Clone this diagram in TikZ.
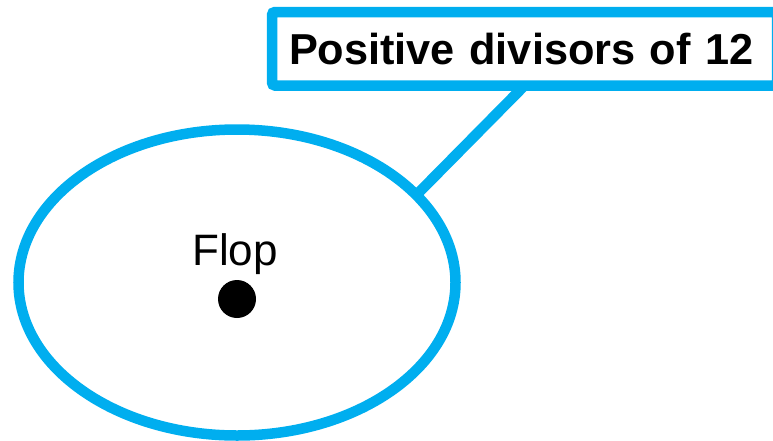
\documentclass[tikz,border=0pt]{standalone}
\usepackage{fontspec}
\setmainfont{Liberation Sans}
\usetikzlibrary{shapes.geometric,backgrounds}
\definecolor{setblue}{RGB}{0,174,239}
\begin{document}
\begin{tikzpicture}[x=1pt, y=-1pt,
    setline/.style={draw=setblue, line width=10.5pt},
    settitle/.style={setline, fill=white, rounded corners=3pt, outer sep=0pt,
      text width=471pt, align=left, inner xsep=17pt, inner ysep=0pt,
      minimum height=73.5pt, text height=31pt, text depth=0pt,
      font=\fontsize{43.3}{50}\selectfont\bfseries}]
    \useasboundingbox (0,0) rectangle (773,440);

    % The set
    \node[setline, ellipse, fill=white, inner sep=0pt, outer sep=0pt,
      minimum width=437pt, minimum height=306pt] (set) at (237,282.5) {};

    % Element and its name
    \node[anchor=base, font=\fontsize{44}{50}\selectfont] (flop) at (235,265) {Flop};
    \node[circle, fill=black, inner sep=0pt, minimum size=38pt] (elem) at (237,299) {};

    % Title box
    \node[settitle, anchor=west] (title) at (272,48.75) {\mbox{Positive divisors of 12}};

    % Line from the title to the set
    \begin{pgfonlayer}{background}
      \draw[setblue, line width=10.5pt] (title.south) -- (set.26.4);
    \end{pgfonlayer}
\end{tikzpicture}
\end{document}
